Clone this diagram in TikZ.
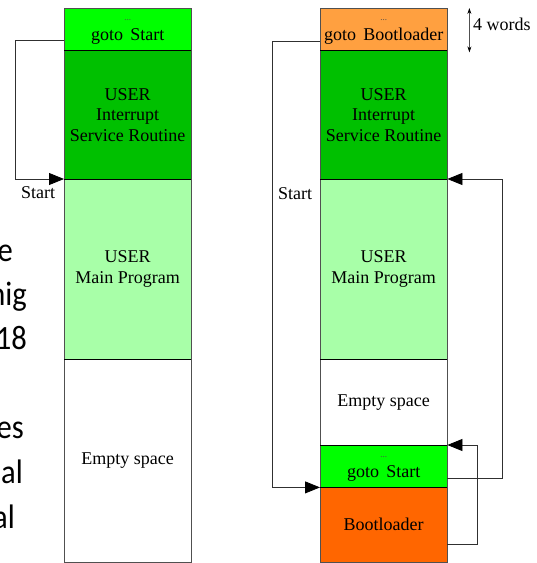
\documentclass[tikz,border=0pt]{standalone}
\usepackage{fontspec}
\newfontfamily\diagfont{Liberation Serif}
\newfontfamily\slidefont{Carlito}
\usetikzlibrary{arrows.meta,calc}
\definecolor{gotogreen}{HTML}{00FF00}
\definecolor{isrgreen}{HTML}{00C000}
\definecolor{maingreen}{HTML}{A8FFA8}
\definecolor{bootorange}{HTML}{FFA040}
\definecolor{bootred}{HTML}{FF6600}
\definecolor{edgegray}{HTML}{505050}
\definecolor{linkgray}{HTML}{303030}
\begin{document}
\begin{tikzpicture}[x=1pt,y=-1pt,
  block/.style={draw=none,inner sep=0pt,minimum width=127pt,anchor=north west,
    font=\diagfont\fontsize{18}{20.5}\selectfont,align=center},
  sep/.style={line width=1.6pt,black},
  side/.style={draw=edgegray,line width=0.8pt},
  link/.style={draw=linkgray,line width=0.8pt},
  tip/.style={-{Triangle[length=15pt,width=12pt,color=black]}},
  lbl/.style={font=\diagfont\fontsize{18}{20}\selectfont,inner sep=0pt},
  dots/.style={font=\diagfont\fontsize{9}{9}\selectfont,text=black!70,inner sep=0pt},
  slide/.style={font=\slidefont\fontsize{34}{42}\selectfont,anchor=base east,inner sep=0pt,xscale=0.9}]
\useasboundingbox (0,0) rectangle (537,563);
\clip (0,0) rectangle (537,563);
\fill[white] (0,0) rectangle (537,563);

% slide text fragments
\node[slide] (s1) at (13,261) {e};
\node[slide] (s2) at (27,305) {nig};
\node[slide] (s3) at (27,349) {18};
\node[slide] (s4) at (24,438) {es};
\node[slide] (s5) at (23,483) {al};
\node[slide] (s6) at (15,528) {al};

% left column
\node[block,fill=gotogreen,minimum height=42pt] (lgoto) at (64,8) {};
\node[block,fill=isrgreen,minimum height=129pt] (lisr) at (64,50) {USER\\Interrupt\\Service Routine};
\node[block,fill=maingreen,minimum height=180pt] (lmain) at (64,179) {USER\\Main Program};
\node[block,fill=white,minimum height=203pt] (lempty) at (64,359) {\raisebox{-3pt}{Empty space}};
\node[dots] (ldots) at (lgoto.center |- 0,20) {...};
\node[lbl] (lgototxt) at (lgoto.center |- 0,36) {goto\hspace{0.4em}Start};
\draw[side] (lgoto.north west) rectangle (lempty.south east);
\foreach \b in {lgoto,lisr,lmain}
  \draw[sep] (\b.south west) -- (\b.south east);

% right column
\node[block,fill=bootorange,minimum height=42pt] (rgoto) at (320,8) {};
\node[block,fill=isrgreen,minimum height=129pt] (risr) at (320,50) {USER\\Interrupt\\Service Routine};
\node[block,fill=maingreen,minimum height=180pt] (rmain) at (320,179) {USER\\Main Program};
\node[block,fill=white,minimum height=86pt] (rempty) at (320,359) {Empty space};
\node[block,fill=gotogreen,minimum height=42pt] (rgs) at (320,445) {};
\node[block,fill=bootred,minimum height=75pt] (rboot) at (320,487) {\raisebox{-2pt}{Bootloader}};
\node[dots] (rdots1) at (rgoto.center |- 0,20) {...};
\node[lbl] (rgototxt) at (rgoto.center |- 0,36) {goto\hspace{0.4em}Bootloader};
\node[dots] (rdots2) at (rgs.center |- 0,457) {...};
\node[lbl] (rgstxt) at (rgs.center |- 0,473) {goto\hspace{0.4em}Start};
\draw[side] (rgoto.north west) rectangle (rboot.south east);
\foreach \b in {rgoto,risr,rmain,rempty,rgs}
  \draw[sep] (\b.south west) -- (\b.south east);

% connectors
\draw[link,tip] ([yshift=-11pt]lgoto.west) -- ++(-49,0) |- (lmain.north west);
\node[lbl] (lstart) at (38,193) {Start};

\draw[link,tip] ([yshift=-12pt]rgoto.west) -- ++(-48,0) |- (rgs.south west);
\node[lbl] (rstart) at (295,194) {Start};
\draw[link,tip] ([yshift=-12pt]rgs.east) -- ++(55,0) |- (rmain.north east);
\draw[link,tip] ([yshift=-20pt]rboot.east) -- ++(30,0) |- (rgs.north east);

% 4 words dimension
\coordinate (wtop) at ([xshift=22pt]rgoto.north east);
\coordinate (wbot) at ([xshift=22pt,yshift=-2pt]rgoto.south east);
\draw[draw=edgegray,line width=0.7pt,{Stealth[length=6pt,width=4pt,color=black]}-{Stealth[length=6pt,width=4pt,color=black]}] (wtop) -- (wbot);
\node[lbl,anchor=west] (words) at (473,24) {4 words};
\end{tikzpicture}
\end{document}
